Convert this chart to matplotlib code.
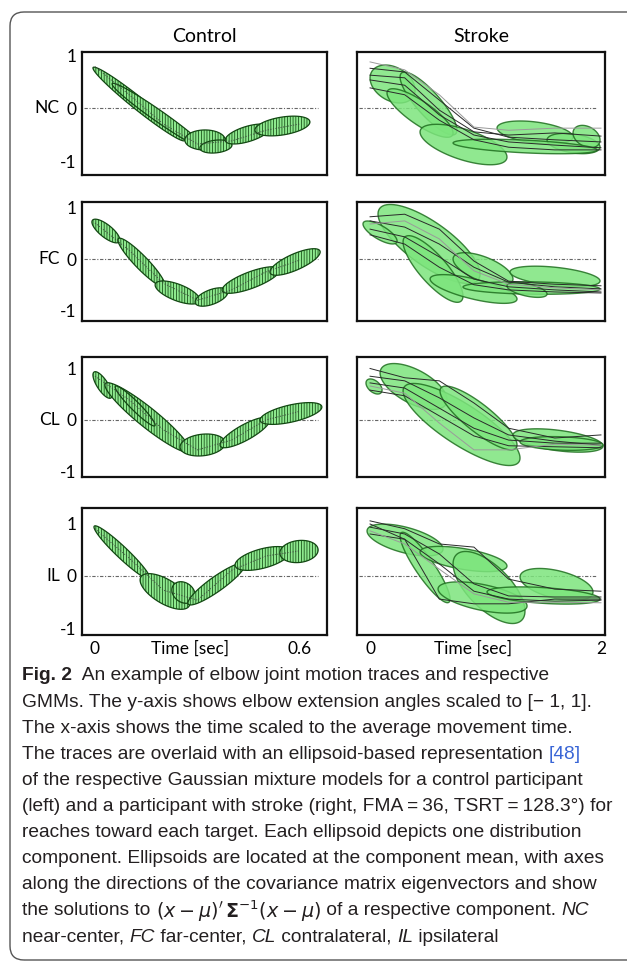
import numpy as np
import matplotlib
matplotlib.use('Agg')
import matplotlib.pyplot as plt
from matplotlib.patches import FancyBboxPatch
from matplotlib.transforms import IdentityTransform

# rows and columns of the figure
rows = ['NC', 'FC', 'CL', 'IL']
groups = ['Control', 'Stroke']

# GMM components: (t_start, y_start, t_end, y_end, vertical half thickness)
nc_control = [(-0.006, 0.755, 0.263, -0.604, 0.15), (0.050, 0.453, 0.322, -0.755, 0.13),
              (0.263, -0.604, 0.381, -0.604, 0.19), (0.307, -0.755, 0.401, -0.698, 0.12),
              (0.381, -0.604, 0.512, -0.377, 0.15), (0.468, -0.415, 0.629, -0.264, 0.17)]
fc_control = [(-0.009, 0.718, 0.073, 0.369, 0.15), (0.067, 0.369, 0.205, -0.505, 0.18),
              (0.176, -0.505, 0.307, -0.796, 0.17), (0.293, -0.835, 0.389, -0.641, 0.15),
              (0.372, -0.602, 0.541, -0.214, 0.17), (0.512, -0.252, 0.659, 0.136, 0.17)]
cl_control = [(-0.006, 0.874, 0.050, 0.485, 0.17), (0.029, 0.680, 0.278, -0.583, 0.24),
              (0.059, 0.641, 0.176, -0.097, 0.12), (0.249, -0.524, 0.381, -0.447, 0.21),
              (0.366, -0.485, 0.512, 0.0, 0.17), (0.483, 0.0, 0.664, 0.252, 0.17)]
il_control = [(-0.003, 0.933, 0.161, -0.038, 0.15), (0.132, -0.076, 0.278, -0.514, 0.26),
              (0.225, -0.267, 0.293, -0.362, 0.20), (0.272, -0.514, 0.439, 0.210, 0.17),
              (0.410, 0.210, 0.571, 0.457, 0.19), (0.541, 0.438, 0.653, 0.495, 0.21)]

nc_stroke = [(0.0, 0.566, 0.39, 0.34, 0.34), (0.26, 0.585, 0.753, -0.415, 0.32),
             (0.147, 0.283, 0.719, -0.472, 0.26), (0.433, -0.453, 1.186, -0.925, 0.30),
             (1.10, -0.377, 1.758, -0.547, 0.20), (1.533, -0.604, 1.992, -0.736, 0.18),
             (1.758, -0.472, 1.992, -0.604, 0.20), (0.719, -0.66, 1.966, -0.792, 0.12)]
fc_stroke = [(0.069, 0.874, 0.953, -0.291, 0.50), (-0.061, 0.68, 0.234, 0.35, 0.15),
             (0.286, 0.33, 0.805, -0.718, 0.38), (0.719, 0.0, 1.238, -0.388, 0.25),
             (0.52, -0.388, 1.273, -0.777, 0.20), (1.212, -0.252, 1.992, -0.427, 0.18),
             (0.805, -0.544, 1.992, -0.583, 0.12), (1.186, -0.524, 1.533, -0.68, 0.12)]
cl_stroke = [(0.087, 0.913, 0.667, 0.388, 0.36), (-0.035, 0.718, 0.104, 0.583, 0.13),
             (0.286, 0.563, 1.299, -0.738, 0.46), (0.606, 0.563, 1.273, -0.485, 0.33),
             (1.238, -0.291, 2.018, -0.505, 0.20), (1.299, -0.427, 2.018, -0.485, 0.13)]
il_stroke = [(-0.026, 0.857, 0.632, 0.514, 0.25), (0.26, 0.762, 0.693, -0.438, 0.30),
             (0.433, 0.457, 1.186, 0.19, 0.20), (0.719, 0.229, 1.342, -0.667, 0.52),
             (0.589, -0.248, 1.36, -0.571, 0.25), (1.299, -0.019, 1.931, -0.305, 0.27),
             (1.013, -0.305, 1.992, -0.438, 0.15)]

# mean traces of the control participant
t_control = [0, 0.1, 0.2, 0.3, 0.4, 0.5, 0.6]
nc_control_trace = [0.78, 0.25, -0.30, -0.68, -0.62, -0.42, -0.30]
fc_control_trace = [0.70, 0.17, -0.47, -0.80, -0.60, -0.25, -0.02]
cl_control_trace = [0.85, 0.39, -0.19, -0.58, -0.39, 0.00, 0.17]
il_control_trace = [0.90, 0.34, -0.27, -0.46, 0.11, 0.38, 0.48]

# single reach traces of the participant with stroke
t_stroke = [0, 0.3, 0.6, 0.9, 1.2, 1.6, 2.0]
nc_stroke_traces = [[0.75, 0.68, 0.15, -0.38, -0.55, -0.60, -0.64],
                    [0.53, 0.43, -0.13, -0.51, -0.64, -0.70, -0.75],
                    [0.38, 0.25, -0.23, -0.60, -0.74, -0.79, -0.79],
                    [0.62, 0.57, -0.04, -0.45, -0.51, -0.47, -0.53],
                    [0.87, 0.72, 0.25, -0.36, -0.42, -0.38, -0.38]]
fc_stroke_traces = [[0.74, 0.62, 0.29, -0.16, -0.45, -0.54, -0.58],
                    [0.58, 0.43, 0.04, -0.39, -0.54, -0.60, -0.64],
                    [0.82, 0.87, 0.58, -0.04, -0.43, -0.49, -0.52],
                    [0.47, 0.29, -0.16, -0.50, -0.60, -0.64, -0.66],
                    [0.68, 0.74, 0.39, -0.23, -0.49, -0.56, -0.60]]
cl_stroke_traces = [[0.72, 0.62, 0.23, -0.16, -0.39, -0.45, -0.45],
                    [0.85, 0.76, 0.43, 0.04, -0.29, -0.41, -0.49],
                    [0.58, 0.47, 0.08, -0.31, -0.50, -0.52, -0.54],
                    [1.00, 0.82, 0.76, 0.33, -0.16, -0.35, -0.29],
                    [0.66, 0.52, -0.06, -0.58, -0.58, -0.47, -0.49]]
il_stroke_traces = [[0.93, 0.80, 0.42, -0.15, -0.38, -0.40, -0.40],
                    [0.80, 0.70, 0.23, -0.29, -0.44, -0.48, -0.46],
                    [1.05, 0.90, 0.61, 0.55, -0.06, -0.25, -0.29],
                    [0.99, 0.70, -0.44, -0.53, -0.53, -0.44, -0.44],
                    [0.86, 0.61, 0.13, -0.34, -0.50, -0.50, -0.51]]

control_sets = [nc_control, fc_control, cl_control, il_control]
stroke_sets = [nc_stroke, fc_stroke, cl_stroke, il_stroke]
control_traces = [nc_control_trace, fc_control_trace, cl_control_trace, il_control_trace]
stroke_traces = [nc_stroke_traces, fc_stroke_traces, cl_stroke_traces, il_stroke_traces]

# caption lines: (text, kind) with kind n=normal, b=bold, i=italic, c=link, m=math
caption = [
    [('Fig. 2', 'b'), ('  An example of elbow joint motion traces and respective', 'n')],
    [('GMMs. The y-axis shows elbow extension angles scaled to [\u2212 1, 1].', 'n')],
    [('The x-axis shows the time scaled to the average movement time.', 'n')],
    [('The traces are overlaid with an ellipsoid-based representation ', 'n'), ('[48]', 'c')],
    [('of the respective Gaussian mixture models for a control participant', 'n')],
    [('(left) and a participant with stroke (right, FMA\u2009=\u200936, TSRT\u2009=\u2009128.3\u00b0) for', 'n')],
    [('reaches toward each target. Each ellipsoid depicts one distribution', 'n')],
    [('component. Ellipsoids are located at the component mean, with axes', 'n')],
    [('along the directions of the covariance matrix eigenvectors and show', 'n')],
    [('the solutions to ', 'n'), (r'$(x-\mu)^{\prime}\,\mathbf{\Sigma}^{-1}(x-\mu)$', 'm'),
     (' of a respective component. ', 'n'), ('NC', 'i')],
    [('near-center, ', 'n'), ('FC', 'i'), (' far-center, ', 'n'), ('CL', 'i'),
     (' contralateral, ', 'n'), ('IL', 'i'), (' ipsilateral', 'n')],
]

W, H = 627, 964
fig = plt.figure(figsize=(W / 100, H / 100), dpi=100)
label_font = ['Lato', 'DejaVu Sans']
cap_font = ['Liberation Sans Narrow', 'Liberation Sans', 'DejaVu Sans']

# pixel boxes of the panels
row_px = [(52, 175), (202, 321), (357, 477), (508, 635)]
col_px = [(82, 327), (357, 605)]
row_ylim = [(-1.264, 1.057), (-1.204, 1.107), (-1.107, 1.223), (-1.124, 1.295)]
col_xlim = [(-0.038, 0.679), (-0.113, 2.035)]

plt.rcParams['hatch.linewidth'] = 0.55


def band(ax, comp, **kw):
    t0, y0, t1, y1, h = comp
    s = np.linspace(0, 2 * np.pi, 90)
    xs = (t0 + t1) / 2 + (t1 - t0) / 2 * np.cos(s)
    ys = (y0 + y1) / 2 + (y1 - y0) / 2 * np.cos(s) + h * np.sin(s)
    ax.fill(xs, ys, **kw)


for r in range(4):
    for c in range(2):
        x0, x1 = col_px[c]
        y0, y1 = row_px[r]
        ax = fig.add_axes([x0 / W, 1 - y1 / H, (x1 - x0) / W, (y1 - y0) / H])
        ax.set_xlim(col_xlim[c])
        ax.set_ylim(row_ylim[r])
        for sp in ax.spines.values():
            sp.set_linewidth(1.6)
            sp.set_color('#111111')
        ax.axhline(0, xmin=0.01, xmax=0.965, color='#666666', lw=0.8,
                   ls=(0, (3, 1.5, 1, 1.5)), zorder=1)
        if c == 0:
            for comp in control_sets[r]:
                band(ax, comp, facecolor='#8ee98e', edgecolor='#124812',
                     hatch='||||||', lw=0.9, zorder=2)
            ax.plot(t_control, control_traces[r], color='#444444', lw=0.7,
                    ls=':', zorder=3)
            ax.set_yticks([-1, 0, 1])
            ax.set_yticklabels(['-1', '0', '1'], family=label_font, fontsize=12.5)
            ax.text(-0.09, 0, rows[r], transform=ax.get_yaxis_transform(),
                    ha='right', va='center', family=label_font, fontsize=12.5)
        else:
            for comp in stroke_sets[r]:
                band(ax, comp, facecolor='#7de57d', edgecolor='#1f6e1f',
                     alpha=0.85, lw=1.0, zorder=2)
            for k, tr in enumerate(stroke_traces[r]):
                col = '#9a9a9a' if k == 4 else '#2a2a2a'
                ax.plot(t_stroke, tr, color=col, lw=0.7, zorder=3)
            ax.set_yticks([])
        ax.tick_params(length=0, pad=4)
        if r == 0:
            ax.text(0.5, 1.13, groups[c], transform=ax.transAxes, ha='center',
                    va='center', family=label_font, fontsize=14)
        if r == 3:
            if c == 0:
                ax.set_xticks([0, 0.6])
                ax.set_xticklabels(['0', '0.6'], family=label_font, fontsize=12.5)
                ax.text(0.278, -0.045, 'Time [sec]', transform=ax.get_xaxis_transform(),
                        ha='center', va='top', family=label_font, fontsize=12.5)
            else:
                ax.set_xticks([0, 2])
                ax.set_xticklabels(['0', '2'], family=label_font, fontsize=12.5)
                ax.text(0.892, -0.045, 'Time [sec]', transform=ax.get_xaxis_transform(),
                        ha='center', va='top', family=label_font, fontsize=12.5)
        else:
            ax.set_xticks([])

# rounded frame around figure and caption
fig.add_artist(FancyBboxPatch((10, 4), 660, 948, boxstyle='round,pad=0,rounding_size=14',
                              transform=IdentityTransform(), fill=False,
                              ec='#555555', lw=1.0))

# caption
renderer = fig.canvas.get_renderer()


def piece_width(txt, kind, size):
    kw = dict(fontsize=size, family=cap_font)
    if kind == 'b':
        kw['weight'] = 'bold'
    if kind == 'i':
        kw['style'] = 'italic'
    if kind == 'm':
        t = fig.text(0, 0, txt, **kw)
        w = t.get_window_extent(renderer).width
        t.remove()
        return w
    t = fig.text(0, 0, txt + '|', **kw)
    w = t.get_window_extent(renderer).width
    t.remove()
    t = fig.text(0, 0, '|', **kw)
    w -= t.get_window_extent(renderer).width
    t.remove()
    return w


ref_w = sum(piece_width(txt, k, 10) for txt, k in caption[7])
cap_size = 10 * 584 / ref_w

for i, line in enumerate(caption):
    x = 22
    y = 676 + i * 26.1
    for txt, kind in line:
        kw = dict(fontsize=cap_size, family=cap_font, va='center', ha='left',
                  color='#231f20')
        if kind == 'b':
            kw['weight'] = 'bold'
        if kind == 'i':
            kw['style'] = 'italic'
        if kind == 'c':
            kw['color'] = '#3a66d6'
        fig.text(x / W, 1 - y / H, txt, **kw)
        x += piece_width(txt, kind, cap_size)

fig.savefig('out.png', dpi=100)
